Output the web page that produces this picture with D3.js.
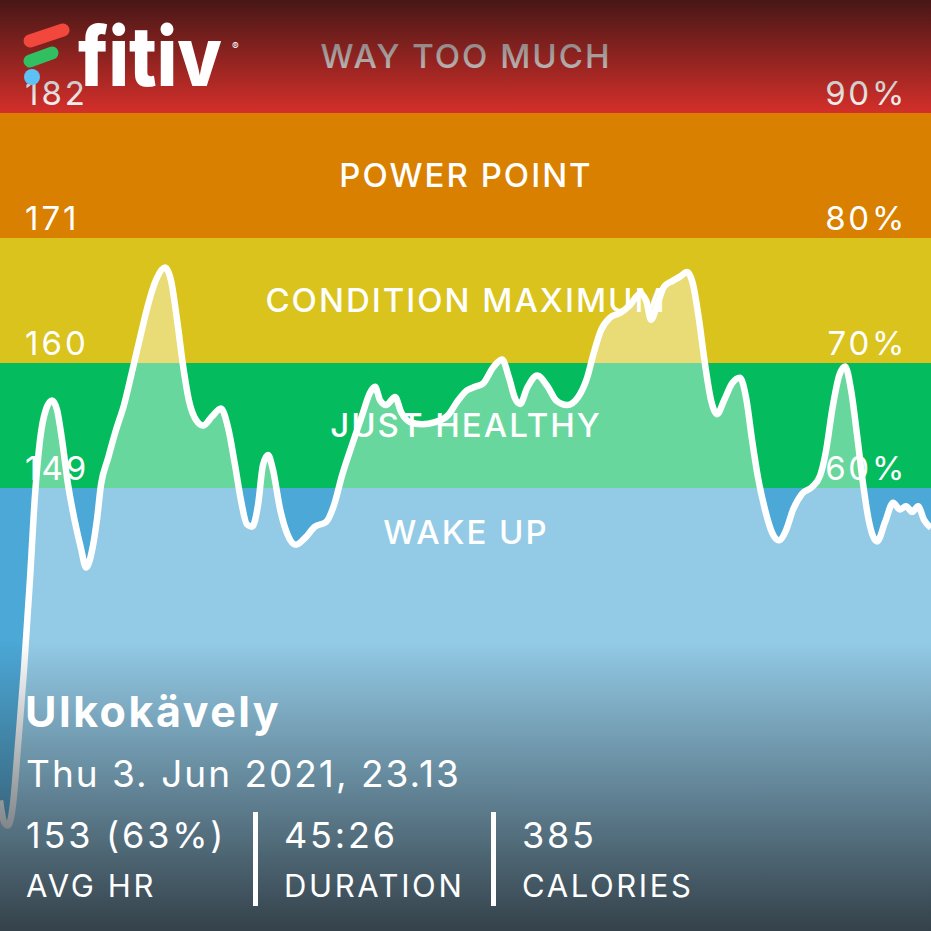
<!DOCTYPE html>
<html>
<head>
<meta charset="utf-8">
<script src="https://cdn.jsdelivr.net/npm/d3@7"></script>
<style>
  html, body { margin: 0; padding: 0; background: #fff; }
  svg { display: block; font-family: Inter, "Noto Sans", sans-serif; }
</style>
</head>
<body>
<svg id="chart" width="931" height="931"></svg>
<script>
// heart rate zones (bpm boundaries, top to bottom)
const zoneNames = ["WAY TOO MUCH", "POWER POINT", "CONDITION MAXIMUM", "JUST HEALTHY", "WAKE UP"];
const zoneTop = [193, 182, 171, 160, 149];
const zoneBottom = [182, 171, 160, 149, 100];
const zoneColors = ["#d42f2a", "#d98000", "#dac31c", "#04bc5e", "#4ba8d7"];

// axis ticks
const hrTicks = [182, 171, 160, 149];
const pctTicks = ["90%", "80%", "70%", "60%"];

// workout samples: minutes since start, heart rate (bpm)
const minutes = [0, 0.2, 0.39, 0.63, 0.88, 1.17, 1.46, 1.71, 1.95, 2.24, 2.54, 2.78, 3.03, 3.32, 3.66, 3.95,
  4.2, 4.49, 4.73, 4.93, 5.27, 5.66, 6.05, 6.44, 6.83, 7.22, 7.61, 8.05, 8.34, 8.64, 8.93, 9.22, 9.56, 9.91,
  10.35, 10.78, 11.13, 11.47, 11.76, 12.05, 12.3, 12.59, 12.83, 13.08, 13.32, 13.66, 14.01, 14.44, 14.88,
  15.37, 15.91, 16.3, 16.69, 17.18, 17.67, 18.06, 18.3, 18.55, 18.84, 19.28, 19.57, 20.01, 20.59, 21.23,
  21.86, 22.35, 22.79, 23.18, 23.57, 24.06, 24.5, 24.84, 25.13, 25.38, 25.72, 26.21, 26.7, 27.14, 27.67,
  28.21, 28.65, 28.99, 29.33, 29.77, 30.26, 30.74, 31.23, 31.53, 31.77, 32.06, 32.4, 32.79, 33.18, 33.53,
  33.82, 34.11, 34.41, 34.7, 34.99, 35.33, 35.72, 36.11, 36.41, 36.7, 36.99, 37.33, 37.67, 38.01, 38.36,
  38.7, 39.14, 39.63, 40.02, 40.31, 40.61, 40.95, 41.24, 41.53, 41.82, 42.12, 42.41, 42.8, 43.19, 43.58,
  43.92, 44.21, 44.51, 44.8, 45.09, 45.43];
const heartRate = [121.5, 119.6, 119.3, 121.1, 126.4, 133.0, 140.9, 148.4, 153.2, 155.9, 156.7, 155.9, 153.2,
  149.3, 146.0, 143.7, 142.0, 143.5, 146.2, 149.3, 151.6, 154.1, 156.3, 159.2, 162.2, 165.1, 167.3, 168.4,
  167.3, 163.8, 159.8, 156.7, 155.0, 154.5, 155.3, 156.0, 154.3, 151.0, 147.9, 145.8, 145.6, 147.5, 151.0,
  151.9, 150.6, 147.2, 145.0, 144.0, 144.6, 145.6, 146.0, 147.5, 150.1, 152.8, 155.4, 157.4, 157.9, 156.7,
  156.3, 157.0, 155.7, 154.8, 154.6, 154.8, 155.4, 156.7, 157.6, 157.9, 158.2, 159.6, 160.3, 158.7, 156.9,
  156.4, 157.8, 158.9, 158.0, 156.7, 156.3, 157.0, 158.7, 161.0, 162.9, 164.0, 164.4, 165.1, 166.1, 165.5,
  163.8, 165.1, 166.7, 167.2, 167.6, 168.0, 166.9, 163.8, 159.8, 156.7, 155.5, 156.7, 158.2, 158.7, 156.9,
  153.2, 149.9, 147.1, 145.1, 144.4, 145.3, 147.1, 148.5, 149.1, 150.1, 152.3, 155.9, 158.9, 159.7, 157.6,
  153.7, 149.3, 146.0, 144.3, 146.0, 147.7, 147.1, 147.4, 146.9, 147.4, 146.2, 145.5];

// summary
const workoutTitle = "Ulkokävely";
const workoutDate = "Thu 3. Jun 2021, 23.13";
const statValues = ["153 (63%)", "45:26", "385"];
const statLabels = ["AVG HR", "DURATION", "CALORIES"];

const W = 931, H = 931;
const svg = d3.select("#chart");
const defs = svg.append("defs");

const x = d3.scaleLinear().domain([0, 45.43]).range([0, W]);
const y = d3.scaleLinear().domain([149, 182]).range([488, 113]);

const bandTop = i => Math.max(0, y(zoneTop[i]));
const bandBottom = i => Math.min(H, y(zoneBottom[i]));

// zone bands
svg.append("g").selectAll("rect")
  .data(zoneNames)
  .join("rect")
  .attr("x", 0)
  .attr("width", W)
  .attr("y", (d, i) => bandTop(i))
  .attr("height", (d, i) => bandBottom(i) - bandTop(i))
  .attr("fill", (d, i) => zoneColors[i]);

const data = minutes.map((m, i) => ({ m: m, hr: heartRate[i] }));

// area under the curve
svg.append("path")
  .datum(data)
  .attr("fill", "rgba(255,255,255,0.4)")
  .attr("d", d3.area().curve(d3.curveMonotoneX).x(d => x(d.m)).y0(H).y1(d => y(d.hr)));

// zone names
svg.append("g").selectAll("text")
  .data(zoneNames)
  .join("text")
  .attr("x", 466)
  .attr("y", (d, i) => i < 4 ? (bandTop(i) + bandBottom(i)) / 2 : bandTop(i) + 44)
  .attr("dy", "0.36em")
  .attr("text-anchor", "middle")
  .attr("fill", "#fff")
  .attr("font-size", 33)
  .attr("font-weight", 500)
  .attr("letter-spacing", 2)
  .text(d => d);

// hr / percent labels
svg.append("g").selectAll("text")
  .data(hrTicks)
  .join("text")
  .attr("x", 25)
  .attr("y", d => y(d) - 8)
  .attr("fill", "#fff")
  .attr("font-size", 33)
  .attr("letter-spacing", 3)
  .text(d => d);
svg.append("g").selectAll("text")
  .data(pctTicks)
  .join("text")
  .attr("x", 907)
  .attr("y", (d, i) => y(hrTicks[i]) - 8)
  .attr("text-anchor", "end")
  .attr("fill", "#fff")
  .attr("font-size", 33)
  .attr("letter-spacing", 2.7)
  .text(d => d);

// heart rate line
svg.append("path")
  .datum(data)
  .attr("fill", "none")
  .attr("stroke", "#fff")
  .attr("stroke-width", 6.5)
  .attr("stroke-linejoin", "round")
  .attr("d", d3.line().curve(d3.curveMonotoneX).x(d => x(d.m)).y(d => y(d.hr)));

// dark gradients top and bottom
const topGrad = defs.append("linearGradient").attr("id", "topGrad")
  .attr("x1", 0).attr("y1", 0).attr("x2", 0).attr("y2", 1);
topGrad.append("stop").attr("offset", 0).attr("stop-color", "#281212").attr("stop-opacity", 0.82);
topGrad.append("stop").attr("offset", 1).attr("stop-color", "#281212").attr("stop-opacity", 0);
svg.append("rect").attr("x", 0).attr("y", 0).attr("width", W).attr("height", 113)
  .attr("fill", "url(#topGrad)");

const botGrad = defs.append("linearGradient").attr("id", "botGrad")
  .attr("x1", 0).attr("y1", 0).attr("x2", 0).attr("y2", 1);
botGrad.append("stop").attr("offset", 0).attr("stop-color", "#2d373e").attr("stop-opacity", 0);
botGrad.append("stop").attr("offset", 1).attr("stop-color", "#2d373e").attr("stop-opacity", 0.93);
svg.append("rect").attr("x", 0).attr("y", 640).attr("width", W).attr("height", H - 640)
  .attr("fill", "url(#botGrad)");

// logo
const logo = svg.append("g");
logo.append("line").attr("x1", 30).attr("y1", 41).attr("x2", 63).attr("y2", 30)
  .attr("stroke", "#f2473d").attr("stroke-width", 13).attr("stroke-linecap", "round");
logo.append("line").attr("x1", 30).attr("y1", 61).attr("x2", 52).attr("y2", 53)
  .attr("stroke", "#30c062").attr("stroke-width", 13).attr("stroke-linecap", "round");
logo.append("circle").attr("cx", 32).attr("cy", 77).attr("r", 8).attr("fill", "#5ec1f5");
logo.append("text").attr("x", 78).attr("y", 86)
  .attr("fill", "#fff").attr("font-size", 82).attr("font-weight", 800)
  .attr("textLength", 144).attr("lengthAdjust", "spacingAndGlyphs")
  .text("fitiv");
logo.append("text").attr("x", 232).attr("y", 50)
  .attr("fill", "#fff").attr("font-size", 10).text("®");

// summary text
svg.append("text").attr("x", 25).attr("y", 727)
  .attr("fill", "#fff").attr("font-size", 43).attr("font-weight", 700)
  .attr("letter-spacing", 2.5)
  .text(workoutTitle);
svg.append("text").attr("x", 26).attr("y", 787)
  .attr("fill", "#fff").attr("font-size", 37)
  .attr("letter-spacing", 2)
  .text(workoutDate);

const statX = [26, 284, 522];
const stats = svg.append("g").selectAll("g")
  .data(statValues)
  .join("g");
stats.append("text").attr("x", (d, i) => statX[i]).attr("y", 848)
  .attr("fill", "#fff").attr("font-size", 36).attr("letter-spacing", 2.8).text(d => d);
stats.append("text").attr("x", (d, i) => statX[i]).attr("y", 897)
  .attr("fill", "#fff").attr("font-size", 31).attr("letter-spacing", 2.6).text((d, i) => statLabels[i]);
stats.filter((d, i) => i > 0).append("rect")
  .attr("x", (d, i) => statX[i + 1] - 31)
  .attr("y", 812).attr("width", 5).attr("height", 94).attr("fill", "#fff");
</script>
</body>
</html>
